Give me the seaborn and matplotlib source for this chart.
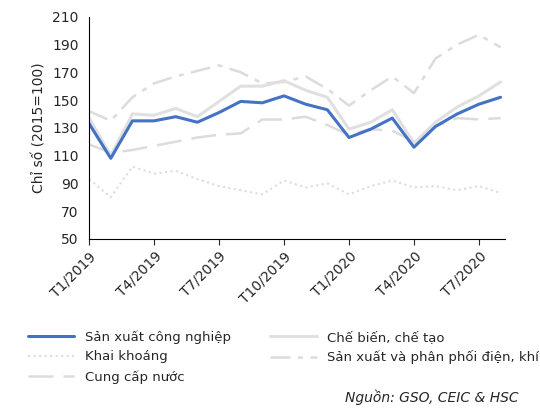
import matplotlib
matplotlib.use("Agg")
import matplotlib.pyplot as plt
import seaborn as sns
import pandas as pd

months = [f"T{m}/{y}" for y in (2019, 2020) for m in range(1, 13)][:20]
san_xuat = [133, 108, 135, 135, 138, 134, 141, 149, 148, 153, 147, 143, 123, 129, 137, 116, 131, 140, 147, 152]
che_bien = [137, 110, 140, 139, 144, 138, 149, 160, 160, 164, 157, 152, 129, 134, 143, 119, 134, 145, 153, 163]
khai_khoang = [93, 80, 102, 97, 99, 93, 88, 85, 82, 92, 87, 90, 82, 88, 92, 87, 88, 85, 88, 83]
dien_khi = [142, 135, 152, 162, 167, 171, 175, 170, 162, 163, 167, 158, 146, 157, 167, 155, 180, 190, 197, 188]
nuoc = [118, 112, 114, 117, 120, 123, 125, 126, 136, 136, 138, 132, 125, 129, 128, 120, 131, 137, 136, 137]

sns.set_style("white")
fig = plt.figure(figsize=(5.4, 4.19), dpi=100)
ax = fig.add_axes([0.165, 0.43, 0.77, 0.53])
x = list(range(len(months)))

series = [
    ("Sản xuất công nghiệp", san_xuat, "#4472c4", "-", 2.2),
    ("Chế biến, chế tạo", che_bien, "#e0e0e0", "-", 2.2),
    ("Khai khoáng", khai_khoang, "#dcdcdc", ":", 1.5),
    ("Sản xuất và phân phối điện, khí", dien_khi, "#dcdcdc", (0, (8, 3, 2, 3)), 1.8),
    ("Cung cấp nước", nuoc, "#dcdcdc", (0, (10, 4)), 1.8),
]
handles = {}
for name, vals, col, ls, lw in series[::-1]:
    df = pd.DataFrame({"x": x, "y": vals})
    sns.lineplot(data=df, x="x", y="y", ax=ax, color=col, linestyle=ls, lw=lw)
    handles[name] = ax.lines[-1]

ax.set_xlim(0, 19.2)
ax.set_ylim(50, 210)
ax.set_yticks(range(50, 211, 20))
ax.set_xticks(range(0, 20, 3))
ax.set_xticklabels([months[i] for i in range(0, 20, 3)], rotation=45, ha="right", rotation_mode="anchor")
ax.tick_params(labelsize=10, length=4, direction="out", bottom=True)
ax.set_xlabel("")
ax.set_ylabel("Chỉ số (2015=100)", fontsize=10)
for s in ("top", "right"):
    ax.spines[s].set_visible(False)
for s in ("left", "bottom"):
    ax.spines[s].set_color("black")

# legend fills column by column, so order for row-major look
names = ["Sản xuất công nghiệp", "Khai khoáng", "Cung cấp nước",
         "Chế biến, chế tạo", "Sản xuất và phân phối điện, khí"]
fig.legend([handles[n] for n in names], names, loc="upper left", bbox_to_anchor=(0.03, 0.24),
           ncol=2, frameon=False, fontsize=9.5, columnspacing=3, handlelength=3.5)
fig.text(0.96, 0.04, "Nguồn: GSO, CEIC & HSC", ha="right", style="italic", fontsize=10)
fig.savefig("out.png")
